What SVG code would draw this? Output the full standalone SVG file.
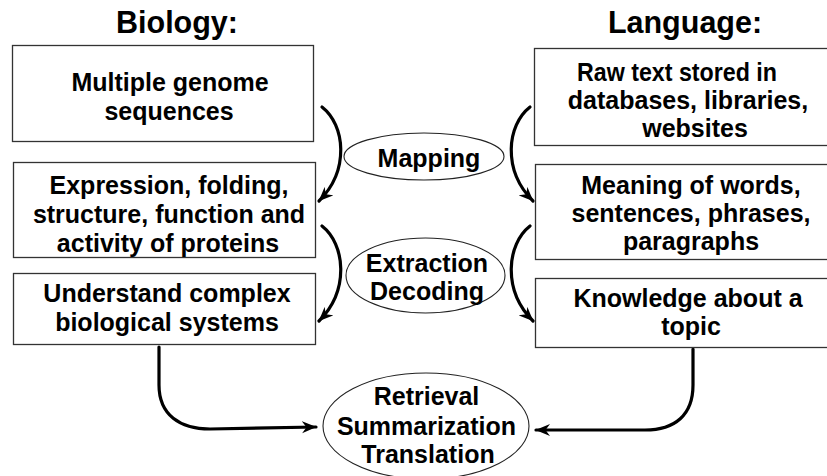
<svg xmlns="http://www.w3.org/2000/svg" width="827" height="476" viewBox="0 0 827 476">
<style>
.bg{fill:#fff}
.box{fill:#fff;stroke:#333;stroke-width:1.3}
.ell{fill:#fff;stroke:#222;stroke-width:1.1}
.t{font-family:"Liberation Sans",Arial,sans-serif;font-weight:bold;font-size:25px;fill:#000;text-anchor:middle}
.h{font-family:"Liberation Sans",Arial,sans-serif;font-weight:bold;font-size:30.5px;fill:#000;text-anchor:middle}
.c{fill:none;stroke:#000;stroke-width:3.2;stroke-linecap:round}
</style>
<defs>
<marker id="arr" markerUnits="userSpaceOnUse" viewBox="0 0 15 13" refX="14" refY="6.5" markerWidth="15" markerHeight="13" orient="auto">
<path d="M0,0.5 L14.5,6.5 L0,12.5 L4.5,6.5 Z" fill="#000"/>
</marker>
</defs>
<rect class="bg" x="0" y="0" width="827" height="476"/>
<g id="title-biology"><text class="h" x="177" y="33">Biology:</text></g>
<g id="title-language"><text class="h" x="685" y="33">Language:</text></g>
<g id="connectors">
<path class="c" d="M322,107 C345,125 350,170 319,201" marker-end="url(#arr)"/>
<path class="c" d="M322,226 C345,244 350,290 319,321" marker-end="url(#arr)"/>
<path class="c" d="M530,107 C507,125 502,170 533,201" marker-end="url(#arr)"/>
<path class="c" d="M530,226 C507,244 502,290 533,321" marker-end="url(#arr)"/>
<path class="c" d="M159,347 L159,385 C159,415 180,429 210,429 L316,427" marker-end="url(#arr)"/>
<path class="c" d="M693,349 L693,385 C693,415 675,430 645,430 L536,430" marker-end="url(#arr)"/>
</g>
<g id="box-genome">
<rect class="box" x="12.5" y="45.5" width="301" height="96"/>
<text class="t" x="170" y="91">Multiple genome</text>
<text class="t" x="169" y="120">sequences</text>
</g>
<g id="box-proteins">
<rect class="box" x="13.5" y="162.5" width="302" height="95"/>
<text class="t" x="169" y="194">Expression, folding,</text>
<text class="t" x="169" y="223">structure, function and</text>
<text class="t" x="168" y="252">activity of proteins</text>
</g>
<g id="box-systems">
<rect class="box" x="13.5" y="273.5" width="302" height="71"/>
<text class="t" x="167" y="302">Understand complex</text>
<text class="t" x="167" y="331">biological systems</text>
</g>
<g id="box-rawtext">
<rect class="box" x="534.5" y="48.5" width="300" height="97"/>
<text class="t" x="677" y="81" textLength="200" lengthAdjust="spacingAndGlyphs">Raw text stored in</text>
<text class="t" x="688" y="109">databases, libraries,</text>
<text class="t" x="695" y="137">websites</text>
</g>
<g id="box-meaning">
<rect class="box" x="535.5" y="164.5" width="300" height="95"/>
<text class="t" x="691" y="194">Meaning of words,</text>
<text class="t" x="691" y="222">sentences, phrases,</text>
<text class="t" x="691" y="250">paragraphs</text>
</g>
<g id="box-knowledge">
<rect class="box" x="535.5" y="278.5" width="300" height="69"/>
<text class="t" x="688" y="307">Knowledge about a</text>
<text class="t" x="691" y="335">topic</text>
</g>
<g id="ell-mapping">
<ellipse class="ell" cx="424" cy="156.5" rx="80" ry="23.5"/>
<text class="t" x="429" y="167">Mapping</text>
</g>
<g id="ell-extraction">
<ellipse class="ell" cx="425.5" cy="275.5" rx="79.5" ry="37.5"/>
<text class="t" x="427" y="272">Extraction</text>
<text class="t" x="427" y="300">Decoding</text>
</g>
<g id="ell-retrieval">
<ellipse class="ell" cx="426" cy="426" rx="103" ry="53"/>
<text class="t" x="426.5" y="405">Retrieval</text>
<text class="t" x="426.5" y="435">Summarization</text>
<text class="t" x="428" y="463">Translation</text>
</g>
</svg>
